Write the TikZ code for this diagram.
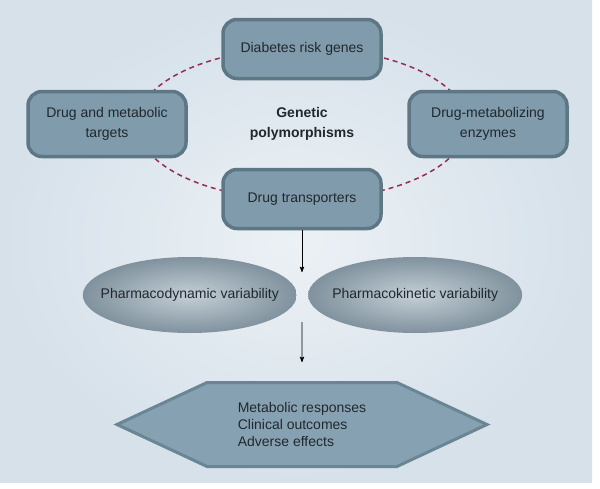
\documentclass[tikz,border=0pt]{standalone}
\usepackage{fontspec}
\setmainfont{Liberation Sans}
\usetikzlibrary{arrows,shapes,positioning}
\definecolor{bgdark}{RGB}{214,225,234}
\definecolor{bglight}{RGB}{236,241,245}
\definecolor{boxfill}{RGB}{128,156,172}
\definecolor{boxedge}{RGB}{94,119,133}
\definecolor{ellouter}{RGB}{128,146,158}
\definecolor{ellinner}{RGB}{196,207,214}
\definecolor{hexfill}{RGB}{134,162,178}
\definecolor{hexedge}{RGB}{106,134,149}
\definecolor{ringred}{RGB}{150,45,82}
\definecolor{darktext}{RGB}{32,40,46}
\tikzset{
    gene/.style={
        rectangle,
        rounded corners=14pt,
        line width=3.5pt,
        draw=boxedge,
        fill=boxfill,
        minimum width=158pt,
        minimum height=59pt,
        align=center,
        text=darktext,
        font=\fontsize{14}{20}\selectfont
    },
    gpoly/.style={
        align=center,
        text=darktext,
        font=\fontsize{14}{20}\selectfont\bfseries
    },
    variab/.style={
        ellipse,
        shade,
        inner color=ellinner,
        outer color=ellouter,
        minimum width=214pt,
        minimum height=76pt,
        inner xsep=-16pt,
        inner ysep=0pt,
        text=darktext,
        font=\fontsize{14}{17}\selectfont
    },
    outcome/.style={
        signal,
        signal to=west and east,
        signal pointer angle=50,
        line width=3pt,
        draw=hexedge,
        fill=hexfill,
        minimum width=370pt,
        minimum height=84pt,
        align=left,
        text=darktext,
        font=\fontsize{14}{16.7}\selectfont
    },
    ring/.style={
        dashed,
        dash pattern=on 5pt off 4pt,
        line width=1.5pt,
        draw=ringred
    },
    flow/.style={
        ->,
        line width=0.9pt,
        draw=black
    }
}
\begin{document}
\begin{tikzpicture}[x=1pt,y=-1pt,node distance=75pt and 190pt,on grid,>=stealth']
    \useasboundingbox (0,0) rectangle (600,488);
    \shade[inner color=bglight,outer color=bgdark] (0,0) rectangle (592,482);
    \node [gpoly] (gp) at (302,124) {Genetic\\polymorphisms};
    \draw [ring] (gp) ellipse [x radius=165pt, y radius=76pt];
    \node [gene] (risk) [above=of gp] {Diabetes risk genes};
    \node [gene] (trans) [below=of gp] {Drug transporters};
    \node [gene,minimum height=65pt] (targets) [left=195pt of gp] {Drug and metabolic\\targets};
    \node [gene,minimum height=65pt] (enzymes) [right=186pt of gp] {Drug-metabolizing\\enzymes};
    \coordinate (mid) at (302,295);
    \node [variab] (pd) [left=5pt of mid] {Pharmacodynamic variability};
    \node [variab] (pk) [right=6pt of mid] {Pharmacokinetic variability};
    \node [outcome] (out) [below=86pt of mid] {Metabolic responses\\Clinical outcomes\\Adverse effects};
    \draw [flow,shorten >=23pt] (trans) -- (mid);
    \draw [flow,shorten <=27pt,shorten >=19pt] (mid) -- (out);
\end{tikzpicture}
\end{document}
